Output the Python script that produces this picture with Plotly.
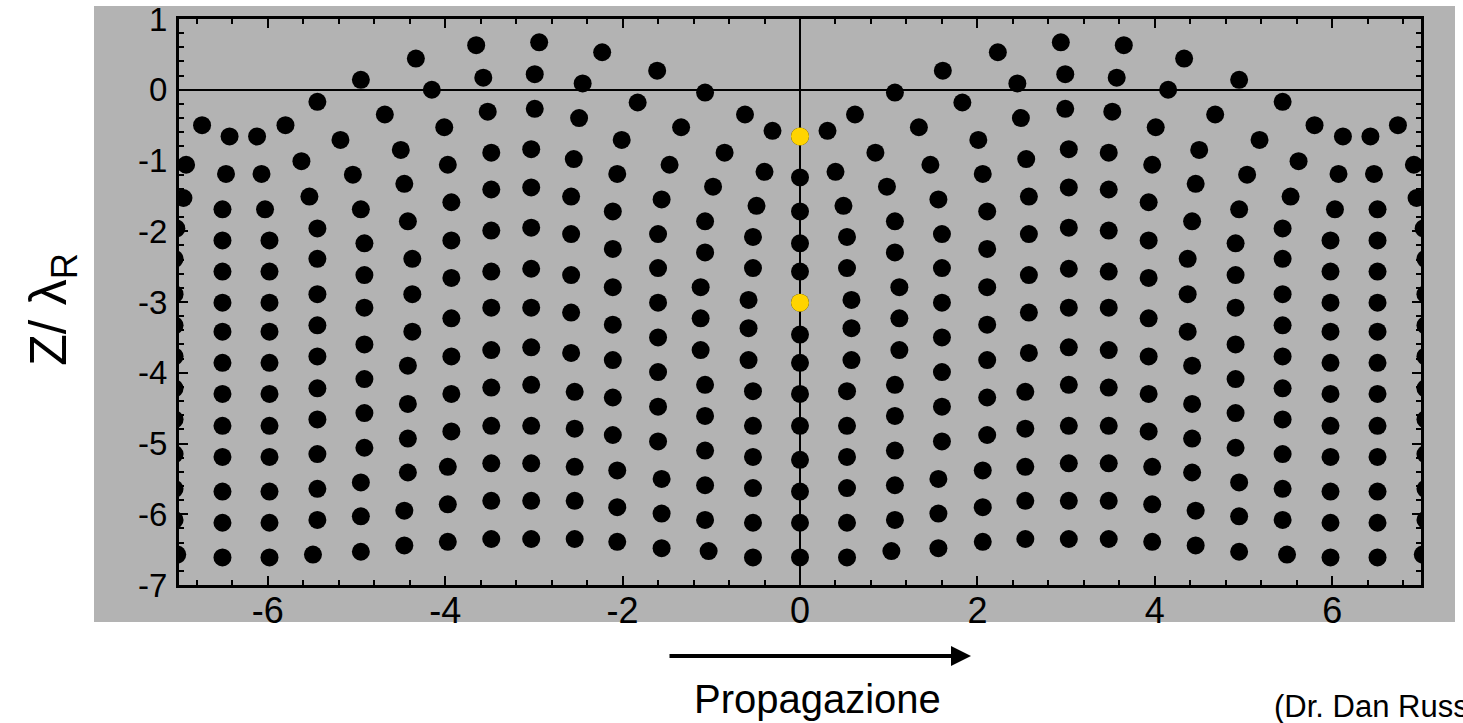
import plotly.graph_objects as go

# ---- data: particle positions, one list per row (depth level), left to right ----
row00_x = [-6.74, -6.43, -6.12, -5.80, -5.44, -4.95, -4.33, -3.65, -2.94, -2.23, -1.61, -1.07, -0.62, -0.31, 0, 0.31, 0.62, 1.07, 1.61, 2.23, 2.94, 3.65, 4.33, 4.95, 5.44, 5.80, 6.12, 6.43, 6.74]
row00_y = [-0.50, -0.66, -0.66, -0.50, -0.17, 0.14, 0.44, 0.63, 0.67, 0.53, 0.27, -0.04, -0.35, -0.58, -0.66, -0.58, -0.35, -0.04, 0.27, 0.53, 0.67, 0.63, 0.44, 0.14, -0.17, -0.50, -0.66, -0.66, -0.50]
row01_x = [-6.92, -6.47, -6.07, -5.62, -5.18, -4.68, -4.15, -3.57, -2.99, -2.45, -1.83, -1.34, -0.85, -0.40, 0, 0.40, 0.85, 1.34, 1.83, 2.45, 2.99, 3.57, 4.15, 4.68, 5.18, 5.62, 6.07, 6.47, 6.92]
row01_y = [-1.06, -1.19, -1.19, -1.01, -0.71, -0.35, 0.00, 0.17, 0.22, 0.09, -0.18, -0.53, -0.89, -1.16, -1.24, -1.16, -0.89, -0.53, -0.18, 0.09, 0.22, 0.17, 0.00, -0.35, -0.71, -1.01, -1.19, -1.19, -1.06]
row02_x = [-6.95, -6.51, -6.03, -5.53, -5.04, -4.50, -4.01, -3.52, -2.99, -2.49, -2.01, -1.47, -0.98, -0.49, 0, 0.49, 0.98, 1.47, 2.01, 2.49, 2.99, 3.52, 4.01, 4.50, 5.04, 5.53, 6.03, 6.51, 6.95]
row02_y = [-1.53, -1.69, -1.69, -1.51, -1.20, -0.85, -0.53, -0.31, -0.27, -0.40, -0.71, -1.06, -1.37, -1.64, -1.72, -1.64, -1.37, -1.06, -0.71, -0.40, -0.27, -0.31, -0.53, -0.85, -1.20, -1.51, -1.69, -1.69, -1.53]
row03_x = [-7.03, -6.51, -5.98, -5.44, -4.95, -4.46, -3.97, -3.48, -3.03, -2.55, -2.06, -1.56, -1.07, -0.53, 0, 0.53, 1.07, 1.56, 2.06, 2.55, 3.03, 3.48, 3.97, 4.46, 4.95, 5.44, 5.98, 6.51, 7.03]
row03_y = [-1.96, -2.13, -2.13, -1.96, -1.69, -1.33, -1.06, -0.89, -0.84, -0.98, -1.19, -1.55, -1.86, -2.08, -2.17, -2.08, -1.86, -1.55, -1.19, -0.98, -0.84, -0.89, -1.06, -1.33, -1.69, -1.96, -2.13, -2.13, -1.96]
row04_x = [-7.05, -6.51, -5.98, -5.44, -4.91, -4.42, -3.93, -3.48, -3.03, -2.58, -2.11, -1.60, -1.07, -0.53, 0, 0.53, 1.07, 1.60, 2.11, 2.58, 3.03, 3.48, 3.93, 4.42, 4.91, 5.44, 5.98, 6.51, 7.05]
row04_y = [-2.39, -2.57, -2.57, -2.39, -2.17, -1.86, -1.59, -1.41, -1.38, -1.51, -1.72, -2.04, -2.30, -2.52, -2.57, -2.52, -2.30, -2.04, -1.72, -1.51, -1.38, -1.41, -1.59, -1.86, -2.17, -2.39, -2.57, -2.57, -2.39]
row05_x = [-7.05, -6.51, -5.98, -5.44, -4.91, -4.37, -3.93, -3.48, -3.03, -2.58, -2.11, -1.60, -1.12, -0.58, 0, 0.58, 1.12, 1.60, 2.11, 2.58, 3.03, 3.48, 3.93, 4.37, 4.91, 5.44, 5.98, 6.51, 7.05]
row05_y = [-2.89, -3.01, -3.01, -2.89, -2.62, -2.39, -2.13, -1.99, -1.95, -2.04, -2.25, -2.52, -2.79, -2.97, -3.01, -2.97, -2.79, -2.52, -2.25, -2.04, -1.95, -1.99, -2.13, -2.39, -2.62, -2.89, -3.01, -3.01, -2.89]
row06_x = [-7.05, -6.51, -5.98, -5.44, -4.91, -4.37, -3.93, -3.48, -3.03, -2.58, -2.11, -1.60, -1.12, -0.58, 0, 0.58, 1.12, 1.60, 2.11, 2.58, 3.03, 3.48, 3.93, 4.37, 4.91, 5.44, 5.98, 6.51, 7.05]
row06_y = [-3.33, -3.42, -3.42, -3.33, -3.08, -2.89, -2.66, -2.57, -2.53, -2.62, -2.79, -3.01, -3.23, -3.37, -3.46, -3.37, -3.23, -3.01, -2.79, -2.62, -2.53, -2.57, -2.66, -2.89, -3.08, -3.33, -3.42, -3.42, -3.33]
row07_x = [-7.05, -6.51, -5.98, -5.44, -4.91, -4.37, -3.93, -3.48, -3.03, -2.58, -2.11, -1.60, -1.12, -0.58, 0, 0.58, 1.12, 1.60, 2.11, 2.58, 3.03, 3.48, 3.93, 4.37, 4.91, 5.44, 5.98, 6.51, 7.05]
row07_y = [-3.77, -3.86, -3.86, -3.77, -3.60, -3.42, -3.23, -3.08, -3.08, -3.15, -3.32, -3.50, -3.68, -3.82, -3.86, -3.82, -3.68, -3.50, -3.32, -3.15, -3.08, -3.08, -3.23, -3.42, -3.60, -3.77, -3.86, -3.86, -3.77]
row08_x = [-7.05, -6.51, -5.98, -5.44, -4.91, -4.42, -3.93, -3.48, -3.03, -2.58, -2.11, -1.60, -1.07, -0.53, 0, 0.53, 1.07, 1.60, 2.11, 2.58, 3.03, 3.48, 3.93, 4.42, 4.91, 5.44, 5.98, 6.51, 7.05]
row08_y = [-4.22, -4.30, -4.30, -4.22, -4.09, -3.90, -3.77, -3.68, -3.64, -3.72, -3.82, -3.99, -4.17, -4.26, -4.30, -4.26, -4.17, -3.99, -3.82, -3.72, -3.64, -3.68, -3.77, -3.90, -4.09, -4.22, -4.30, -4.30, -4.22]
row09_x = [-7.05, -6.51, -5.98, -5.44, -4.91, -4.42, -3.93, -3.48, -3.03, -2.54, -2.11, -1.60, -1.07, -0.53, 0, 0.53, 1.07, 1.60, 2.11, 2.54, 3.03, 3.48, 3.93, 4.42, 4.91, 5.44, 5.98, 6.51, 7.05]
row09_y = [-4.66, -4.75, -4.75, -4.66, -4.57, -4.44, -4.30, -4.21, -4.17, -4.27, -4.35, -4.48, -4.61, -4.75, -4.75, -4.75, -4.61, -4.48, -4.35, -4.27, -4.17, -4.21, -4.30, -4.44, -4.57, -4.66, -4.75, -4.75, -4.66]
row10_x = [-7.05, -6.51, -5.98, -5.44, -4.91, -4.42, -3.93, -3.48, -3.03, -2.54, -2.11, -1.60, -1.07, -0.53, 0, 0.53, 1.07, 1.60, 2.11, 2.54, 3.03, 3.48, 3.93, 4.42, 4.91, 5.44, 5.98, 6.51, 7.05]
row10_y = [-5.15, -5.19, -5.19, -5.15, -5.06, -4.93, -4.83, -4.75, -4.75, -4.79, -4.88, -4.97, -5.10, -5.19, -5.23, -5.19, -5.10, -4.97, -4.88, -4.79, -4.75, -4.75, -4.83, -4.93, -5.06, -5.15, -5.19, -5.19, -5.15]
row11_x = [-7.05, -6.51, -5.98, -5.44, -4.95, -4.42, -3.97, -3.48, -3.03, -2.54, -2.06, -1.56, -1.07, -0.53, 0, 0.53, 1.07, 1.56, 2.06, 2.54, 3.03, 3.48, 3.97, 4.42, 4.95, 5.44, 5.98, 6.51, 7.05]
row11_y = [-5.64, -5.68, -5.68, -5.64, -5.55, -5.41, -5.33, -5.28, -5.28, -5.33, -5.38, -5.50, -5.59, -5.63, -5.68, -5.63, -5.59, -5.50, -5.38, -5.33, -5.28, -5.28, -5.33, -5.41, -5.55, -5.64, -5.68, -5.68, -5.64]
row12_x = [-7.05, -6.51, -5.98, -5.44, -4.95, -4.46, -3.97, -3.48, -3.03, -2.54, -2.06, -1.56, -1.07, -0.53, 0, 0.53, 1.07, 1.56, 2.06, 2.54, 3.03, 3.48, 3.97, 4.46, 4.95, 5.44, 5.98, 6.51, 7.05]
row12_y = [-6.08, -6.12, -6.12, -6.08, -6.03, -5.95, -5.86, -5.81, -5.81, -5.81, -5.90, -5.99, -6.08, -6.12, -6.12, -6.12, -6.08, -5.99, -5.90, -5.81, -5.81, -5.81, -5.86, -5.95, -6.03, -6.08, -6.12, -6.12, -6.08]
row13_x = [-7.02, -6.51, -5.98, -5.49, -4.95, -4.46, -3.97, -3.48, -3.03, -2.54, -2.06, -1.56, -1.03, -0.53, 0, 0.53, 1.03, 1.56, 2.06, 2.54, 3.03, 3.48, 3.97, 4.46, 4.95, 5.49, 5.98, 6.51, 7.02]
row13_y = [-6.57, -6.61, -6.61, -6.57, -6.53, -6.44, -6.39, -6.35, -6.35, -6.35, -6.39, -6.48, -6.52, -6.61, -6.61, -6.61, -6.52, -6.48, -6.39, -6.35, -6.35, -6.35, -6.39, -6.44, -6.53, -6.57, -6.61, -6.61, -6.57]

# highlighted (yellow) particles
yellow_x = [0, 0]
yellow_y = [-0.66, -3.01]

# axis ticks
x_tickvals = [-6, -4, -2, 0, 2, 4, 6]
x_ticktext = ["-6", "-4", "-2", "0", "2", "4", "6"]
y_tickvals = [1, 0, -1, -2, -3, -4, -5, -6, -7]
y_ticktext = ["1", "0", "-1", "-2", "-3", "-4", "-5", "-6", "-7"]

rows_x = [row00_x, row01_x, row02_x, row03_x, row04_x, row05_x, row06_x,
          row07_x, row08_x, row09_x, row10_x, row11_x, row12_x, row13_x]
rows_y = [row00_y, row01_y, row02_y, row03_y, row04_y, row05_y, row06_y,
          row07_y, row08_y, row09_y, row10_y, row11_y, row12_y, row13_y]

all_x, all_y = [], []
for rx, ry in zip(rows_x, rows_y):
    all_x += rx
    all_y += ry

GRAY = "#b3b3b3"

fig = go.Figure()
fig.add_trace(go.Scatter(x=all_x, y=all_y, mode="markers",
                         marker=dict(size=18, color="black", line=dict(width=0)),
                         hoverinfo="skip", showlegend=False))
fig.add_trace(go.Scatter(x=yellow_x, y=yellow_y, mode="markers",
                         marker=dict(size=18, color="#ffd400", line=dict(width=0)),
                         hoverinfo="skip", showlegend=False))

W, H = 1463, 723
ML, MR, MT, MB = 179, 42, 19, 138
PW, PH = W - ML - MR, H - MT - MB

def px_to_paper_x(px):
    return (px - ML) / PW

def py_to_paper_y(py):
    return (H - MB - py) / PH

axis_common = dict(showgrid=False, showline=True, linewidth=3, linecolor="black",
                   mirror="ticks", ticks="inside", ticklen=9, tickwidth=2,
                   tickcolor="black", zeroline=True, zerolinecolor="black",
                   zerolinewidth=2, tickmode="array", automargin=False)

fig.update_xaxes(range=[-7, 7], tickvals=x_tickvals, ticktext=x_ticktext,
                 tickfont=dict(family="Liberation Sans", size=36, color="black"),
                 minor=dict(dtick=0.4, tick0=0, ticks="inside", ticklen=5,
                            tickwidth=2, tickcolor="black", showgrid=False),
                 ticklabelstandoff=-8, **axis_common)
fig.update_yaxes(range=[-7, 1], tickvals=y_tickvals, ticktext=y_ticktext,
                 tickfont=dict(family="Liberation Sans", size=33, color="black"),
                 minor=dict(dtick=0.2, tick0=0, ticks="inside", ticklen=5,
                            tickwidth=2, tickcolor="black", showgrid=False),
                 ticklabelstandoff=2, **axis_common)

shapes = [dict(type="rect", xref="paper", yref="paper", layer="below",
               x0=px_to_paper_x(94), x1=px_to_paper_x(1455),
               y0=py_to_paper_y(622), y1=py_to_paper_y(6),
               fillcolor=GRAY, line=dict(width=0))]

annotations = [
    dict(xref="paper", yref="paper", x=px_to_paper_x(52), y=py_to_paper_y(310),
         text="Z/ λ<sub>R</sub>", textangle=-90, showarrow=False,
         xanchor="center", yanchor="middle",
         font=dict(family="Liberation Sans", size=52, color="black")),
    dict(xref="paper", yref="paper", x=px_to_paper_x(971), y=py_to_paper_y(656),
         ax=-303, ay=0, text="", showarrow=True, arrowhead=2, arrowsize=1,
         arrowwidth=4, arrowcolor="black"),
    dict(xref="paper", yref="paper", x=px_to_paper_x(818), y=py_to_paper_y(699),
         text="Propagazione", showarrow=False, xanchor="center", yanchor="middle",
         font=dict(family="Liberation Sans", size=40, color="black")),
    dict(xref="paper", yref="paper", x=px_to_paper_x(1272), y=py_to_paper_y(706),
         text="(Dr. Dan Russell)", showarrow=False, xanchor="left", yanchor="middle",
         font=dict(family="Liberation Sans", size=31, color="black")),
]

fig.update_layout(width=W, height=H, margin=dict(l=ML, r=MR, t=MT, b=MB, pad=0),
                  paper_bgcolor="white", plot_bgcolor=GRAY,
                  shapes=shapes, annotations=annotations, showlegend=False)

fig.write_html("out.html")
